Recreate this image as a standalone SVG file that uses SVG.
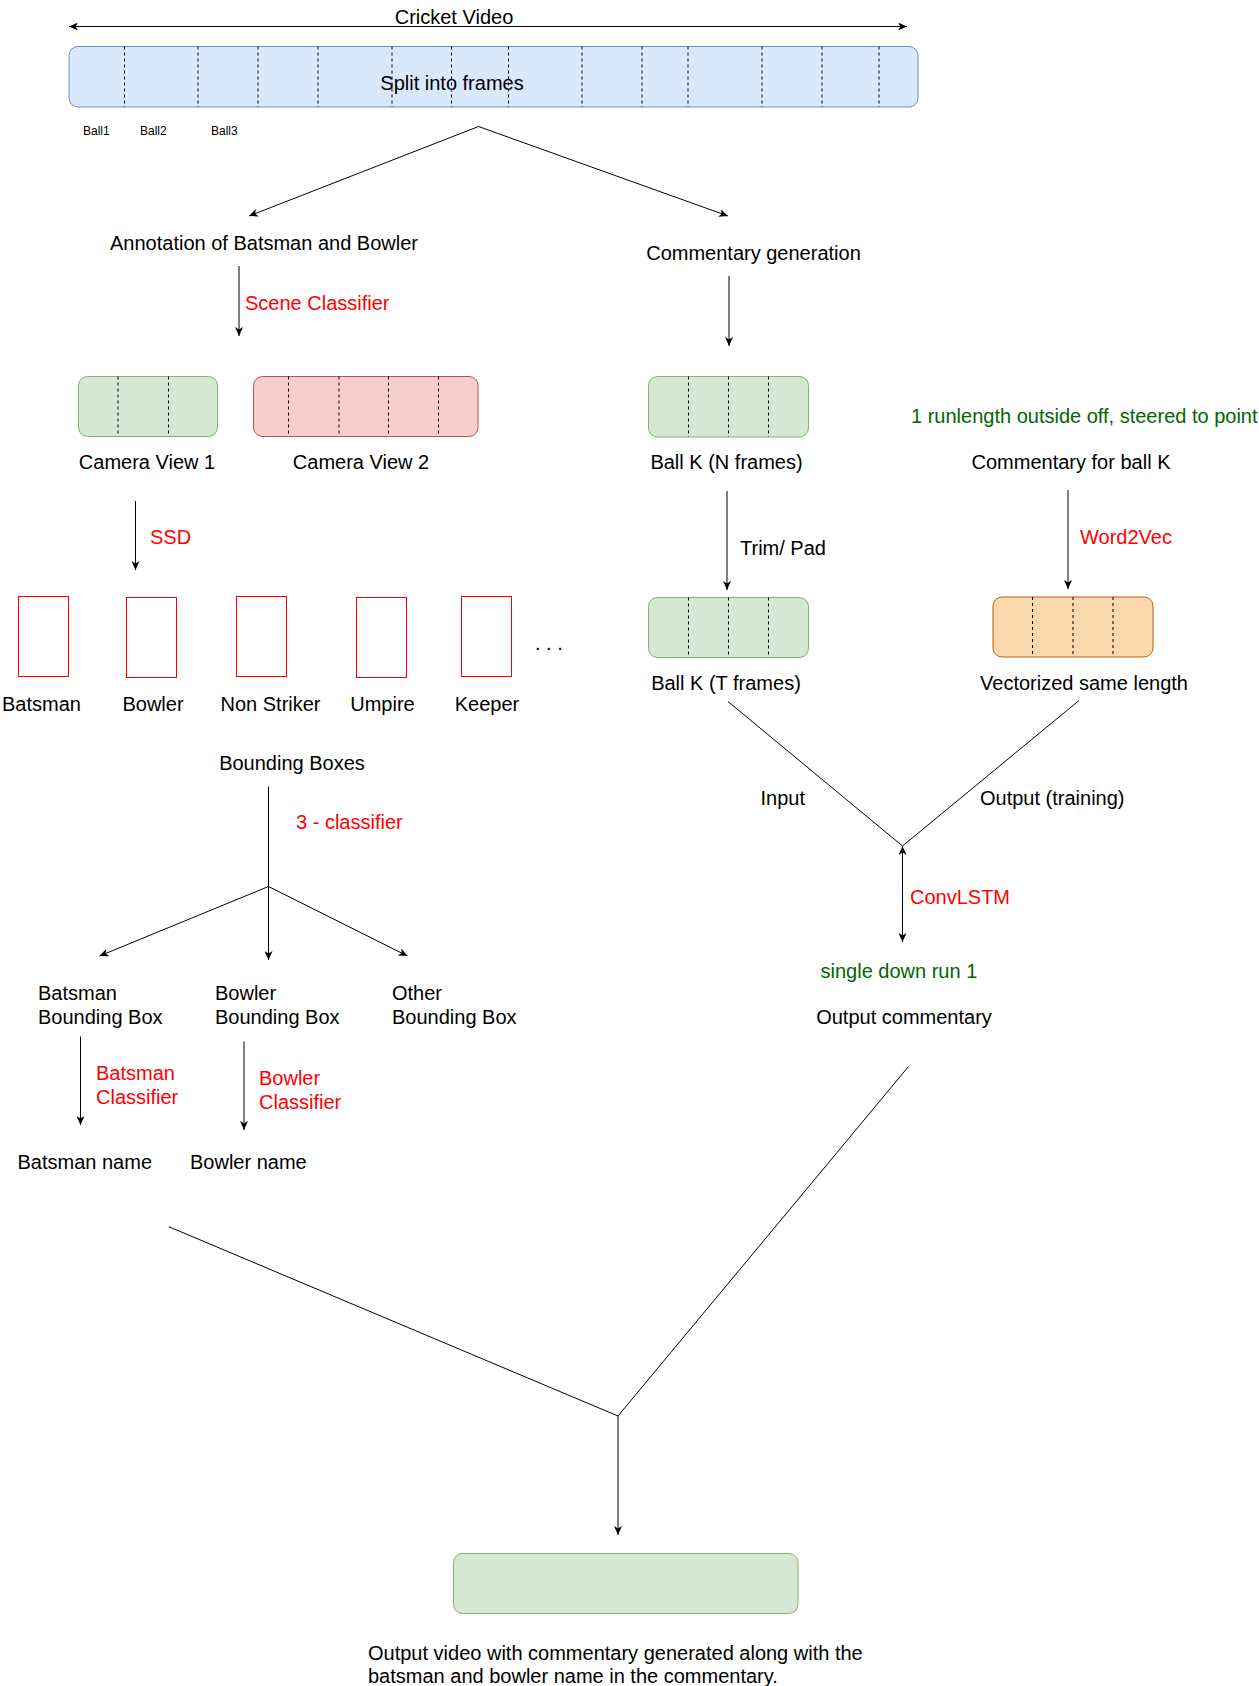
<svg xmlns="http://www.w3.org/2000/svg" width="1259" height="1686" viewBox="0 0 1259 1686">
  <defs>
    <marker id="arrow" viewBox="0 0 9 8" refX="9" refY="4" markerWidth="9" markerHeight="8" markerUnits="userSpaceOnUse" orient="auto-start-reverse">
      <path d="M9,4 L0,0 L2.5,4 L0,8 Z" fill="#000"/>
    </marker>
    <style>
      text { font-family: "Liberation Sans", Arial, Helvetica, sans-serif; font-size: 20px; fill: #000; }
      .small { font-size: 12px; }
      .red { fill: #ff0000; }
      .green { fill: #006600; }
      .mid { text-anchor: middle; }
      .edge { fill: none; stroke: #000; stroke-width: 1; }
      .arr { marker-end: url(#arrow); }
      .dash { stroke: #000; stroke-width: 1; stroke-dasharray: 3 3; }
      .blue { fill: #dae8fc; stroke: #6c8ebf; }
      .grn { fill: #d5e8d4; stroke: #82b366; }
      .pink { fill: #f8cecc; stroke: #b85450; }
      .orange { fill: #fad7ac; stroke: #b46504; }
      .bbox { fill: #fff; stroke: #ff0000; }
    </style>
  </defs>
  <rect width="1259" height="1686" fill="#fff"/>

  <!-- connectors -->
  <g id="connectors">
    <line class="edge" x1="69" y1="26.5" x2="907" y2="26.5" marker-start="url(#arrow)" marker-end="url(#arrow)"/>
    <polyline class="edge arr" points="478.5,126.5 249,216"/>
    <polyline class="edge arr" points="478.5,126.5 728,216"/>
    <line class="edge arr" x1="239" y1="266" x2="239" y2="336"/>
    <line class="edge arr" x1="729" y1="276" x2="729" y2="346"/>
    <line class="edge arr" x1="135.5" y1="501" x2="135.5" y2="570"/>
    <line class="edge arr" x1="727" y1="491" x2="727" y2="590"/>
    <line class="edge arr" x1="1068" y1="490" x2="1068" y2="589"/>
    <line class="edge" x1="728" y1="701.5" x2="902.5" y2="846"/>
    <line class="edge" x1="1079" y1="700.5" x2="902.5" y2="846"/>
    <line class="edge" x1="902.5" y1="846" x2="902.5" y2="942" marker-start="url(#arrow)" marker-end="url(#arrow)"/>
    <line class="edge" x1="268.5" y1="786.5" x2="268.5" y2="886.5"/>
    <line class="edge arr" x1="268.5" y1="886.5" x2="268.5" y2="960"/>
    <line class="edge arr" x1="268.5" y1="886.5" x2="99.5" y2="956"/>
    <line class="edge arr" x1="268.5" y1="886.5" x2="407.5" y2="956"/>
    <line class="edge arr" x1="80.5" y1="1036.5" x2="80.5" y2="1125"/>
    <line class="edge arr" x1="244" y1="1041.5" x2="244" y2="1130"/>
    <line class="edge" x1="908.5" y1="1066.5" x2="618" y2="1416"/>
    <line class="edge" x1="168.8" y1="1226.7" x2="618" y2="1416"/>
    <line class="edge arr" x1="618" y1="1416" x2="618" y2="1535"/>
  </g>

  <!-- edge labels -->
  <g id="edge-labels">
    <text x="454" y="24" class="mid">Cricket Video</text>
    <text x="245" y="310" class="red">Scene Classifier</text>
    <text x="150" y="544" class="red">SSD</text>
    <text x="740" y="555">Trim/ Pad</text>
    <text x="1080" y="544" class="red">Word2Vec</text>
    <text x="760.5" y="805">Input</text>
    <text x="980" y="805">Output (training)</text>
    <text x="296" y="829" class="red">3 - classifier</text>
    <text x="910" y="904" class="red">ConvLSTM</text>
    <text x="96" y="1080" class="red">Batsman</text>
    <text x="96" y="1104" class="red">Classifier</text>
    <text x="259" y="1085" class="red">Bowler</text>
    <text x="259" y="1109" class="red">Classifier</text>
  </g>

  <!-- video split into frames -->
  <g id="video-frames">
    <rect class="blue" x="69" y="46.5" width="849" height="60.5" rx="9"/>
    <g class="dash">
      <line x1="124.5" y1="46.5" x2="124.5" y2="107"/>
      <line x1="198" y1="46.5" x2="198" y2="107"/>
      <line x1="258" y1="46.5" x2="258" y2="107"/>
      <line x1="318" y1="46.5" x2="318" y2="107"/>
      <line x1="392" y1="46.5" x2="392" y2="107"/>
      <line x1="451.5" y1="46.5" x2="451.5" y2="107"/>
      <line x1="508.5" y1="46.5" x2="508.5" y2="107"/>
      <line x1="582" y1="46.5" x2="582" y2="107"/>
      <line x1="642" y1="46.5" x2="642" y2="107"/>
      <line x1="688" y1="46.5" x2="688" y2="107"/>
      <line x1="762" y1="46.5" x2="762" y2="107"/>
      <line x1="822" y1="46.5" x2="822" y2="107"/>
      <line x1="879" y1="46.5" x2="879" y2="107"/>
    </g>
    <text x="452" y="90" class="mid">Split into frames</text>
  </g>

  <g id="ball-labels">
    <text x="83" y="135" class="small">Ball1</text>
    <text x="140" y="135" class="small">Ball2</text>
    <text x="211" y="135" class="small">Ball3</text>
  </g>

  <g id="annotation">
    <text x="264" y="250" class="mid">Annotation of Batsman and Bowler</text>
  </g>

  <g id="commentary-generation">
    <text x="753.5" y="260" class="mid">Commentary generation</text>
  </g>

  <g id="camera-view-1">
    <rect class="grn" x="78.5" y="376.5" width="139" height="60" rx="9"/>
    <line class="dash" x1="118" y1="376.5" x2="118" y2="436.5"/>
    <line class="dash" x1="168.5" y1="376.5" x2="168.5" y2="436.5"/>
    <text x="147" y="468.5" class="mid">Camera View 1</text>
  </g>

  <g id="camera-view-2">
    <rect class="pink" x="253.5" y="376.5" width="224.5" height="60" rx="9"/>
    <line class="dash" x1="288.5" y1="376.5" x2="288.5" y2="436.5"/>
    <line class="dash" x1="339" y1="376.5" x2="339" y2="436.5"/>
    <line class="dash" x1="388.5" y1="376.5" x2="388.5" y2="436.5"/>
    <line class="dash" x1="438.5" y1="376.5" x2="438.5" y2="436.5"/>
    <text x="361" y="468.5" class="mid">Camera View 2</text>
  </g>

  <g id="ball-k-n-frames">
    <rect class="grn" x="648.5" y="376.5" width="160" height="60.5" rx="9"/>
    <line class="dash" x1="688.5" y1="376.5" x2="688.5" y2="437"/>
    <line class="dash" x1="728.5" y1="376.5" x2="728.5" y2="437"/>
    <line class="dash" x1="768.5" y1="376.5" x2="768.5" y2="437"/>
    <text x="726.5" y="468.5" class="mid">Ball K (N frames)</text>
  </g>

  <g id="ball-k-commentary">
    <text x="911" y="423" class="green">1 runlength outside off, steered to point</text>
    <text x="1071" y="468.5" class="mid">Commentary for ball K</text>
  </g>

  <!-- detected players -->
  <g id="bbox-batsman">
    <rect class="bbox" x="18.5" y="596.5" width="50" height="80"/>
    <text x="41.5" y="711" class="mid">Batsman</text>
  </g>
  <g id="bbox-bowler">
    <rect class="bbox" x="126.5" y="597.5" width="50" height="80"/>
    <text x="153" y="711" class="mid">Bowler</text>
  </g>
  <g id="bbox-non-striker">
    <rect class="bbox" x="236.5" y="596.5" width="50" height="80"/>
    <text x="270.5" y="711" class="mid">Non Striker</text>
  </g>
  <g id="bbox-umpire">
    <rect class="bbox" x="356.5" y="597.5" width="50" height="80"/>
    <text x="382.5" y="711" class="mid">Umpire</text>
  </g>
  <g id="bbox-keeper">
    <rect class="bbox" x="461.5" y="596.5" width="50" height="80"/>
    <text x="487" y="711" class="mid">Keeper</text>
  </g>
  <g id="bbox-more">
    <text x="535" y="650">. . .</text>
  </g>

  <g id="ball-k-t-frames">
    <rect class="grn" x="648.5" y="597.5" width="160" height="60" rx="9"/>
    <line class="dash" x1="688.5" y1="597.5" x2="688.5" y2="657.5"/>
    <line class="dash" x1="728.5" y1="597.5" x2="728.5" y2="657.5"/>
    <line class="dash" x1="768.5" y1="597.5" x2="768.5" y2="657.5"/>
    <text x="726" y="690" class="mid">Ball K (T frames)</text>
  </g>

  <g id="vectorized">
    <rect class="orange" x="993" y="597" width="160" height="60" rx="9"/>
    <line class="dash" x1="1032.5" y1="597" x2="1032.5" y2="657"/>
    <line class="dash" x1="1073" y1="597" x2="1073" y2="657"/>
    <line class="dash" x1="1113" y1="597" x2="1113" y2="657"/>
    <text x="1084" y="690" class="mid">Vectorized same length</text>
  </g>

  <g id="bounding-boxes">
    <text x="292" y="769.5" class="mid">Bounding Boxes</text>
  </g>

  <g id="batsman-bounding-box">
    <text x="38" y="1000">Batsman</text>
    <text x="38" y="1024">Bounding Box</text>
  </g>
  <g id="bowler-bounding-box">
    <text x="215" y="1000">Bowler</text>
    <text x="215" y="1024">Bounding Box</text>
  </g>
  <g id="other-bounding-box">
    <text x="392" y="1000">Other</text>
    <text x="392" y="1024">Bounding Box</text>
  </g>

  <g id="batsman-name">
    <text x="17.5" y="1169">Batsman name</text>
  </g>
  <g id="bowler-name">
    <text x="190" y="1169">Bowler name</text>
  </g>

  <g id="output-commentary">
    <text x="820.5" y="978" class="green">single down run 1</text>
    <text x="904" y="1024" class="mid">Output commentary</text>
  </g>

  <g id="output-video">
    <rect class="grn" x="453.5" y="1553.5" width="344.5" height="60" rx="9"/>
    <text x="368" y="1660">Output video with commentary generated along with the</text>
    <text x="368" y="1683">batsman and bowler name in the commentary.</text>
  </g>
</svg>
